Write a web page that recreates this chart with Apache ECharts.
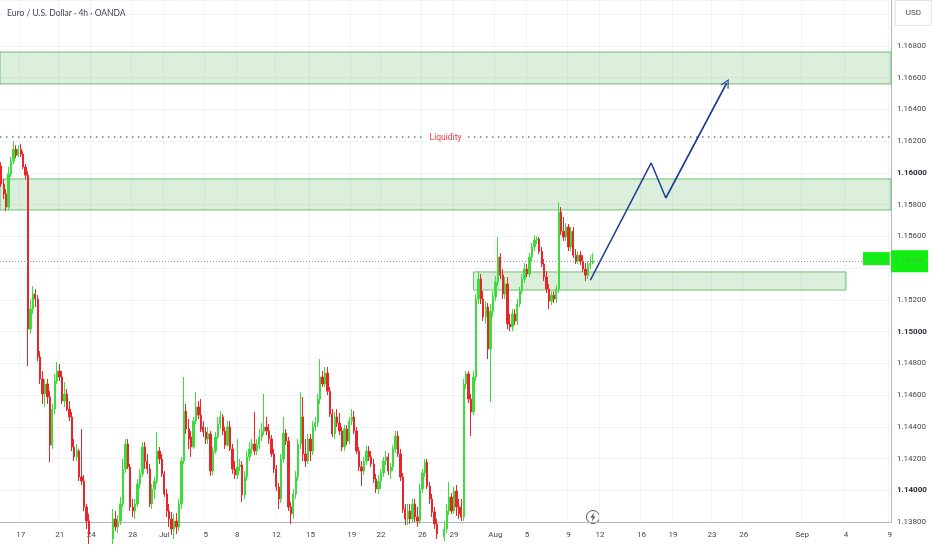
<!DOCTYPE html>
<html>
<head>
<meta charset="utf-8">
<script src="https://cdn.jsdelivr.net/npm/echarts@6/dist/echarts.min.js"></script>
<style>html,body{margin:0;padding:0;background:#fff;}#c{width:932px;height:550px;}</style>
</head>
<body>
<div id="c"></div>
<script>
// ---- data (4h candles) ----
const openP = [
1.16043,1.15930,1.15867,1.15785,1.15993,1.16074,1.16150,1.16112,1.16150,1.16119,
1.16037,1.15986,1.15016,1.15142,1.15237,1.15205,1.14840,1.14701,1.14607,1.14670,
1.14588,1.14285,1.14512,1.14688,1.14751,1.14714,1.14562,1.14607,1.14512,1.14462,
1.14273,1.14210,1.14247,1.14084,1.14058,1.13895,1.13806,1.13725,1.13662,1.13693,
1.13630,1.13662,1.13706,1.13643,1.13693,1.13725,1.13693,1.13819,1.13769,1.13806,
1.13914,1.14134,1.14292,1.14147,1.13895,1.13869,1.13914,1.14040,1.14103,1.14273,
1.14184,1.14134,1.13914,1.14008,1.14058,1.14247,1.14197,1.14103,1.13977,1.13869,
1.13819,1.13756,1.13806,1.13769,1.13914,1.14184,1.14499,1.14386,1.14336,1.14273,
1.14436,1.14525,1.14474,1.14399,1.14367,1.14323,1.14355,1.14121,1.14247,1.14336,
1.14418,1.14462,1.14373,1.14285,1.14399,1.14260,1.14134,1.14096,1.14147,1.14159,
1.13970,1.14084,1.14210,1.14260,1.14292,1.14247,1.14285,1.14336,1.14373,1.14399,
1.14373,1.14323,1.14229,1.14134,1.14021,1.13945,1.14197,1.14361,1.14310,1.13895,
1.13851,1.13977,1.14084,1.14292,1.14462,1.14229,1.14184,1.14323,1.14247,1.14399,
1.14424,1.14575,1.14714,1.14670,1.14739,1.14625,1.14481,1.14355,1.14462,1.14424,
1.14373,1.14273,1.14386,1.14310,1.14436,1.14462,1.14373,1.14247,1.14147,1.14121,
1.14184,1.14247,1.14210,1.14166,1.14071,1.14008,1.14058,1.14109,1.14184,1.14210,
1.14121,1.14147,1.14260,1.14342,1.14229,1.14084,1.13882,1.13819,1.13869,1.13819,
1.13914,1.13832,1.13806,1.14008,1.14109,1.14178,1.14027,1.13945,1.13863,1.13788,
1.13725,1.13756,1.13706,1.13756,1.13869,1.13958,1.13869,1.13995,1.13895,1.13895,
1.13832,1.14670,1.14733,1.14575,1.14493,1.14714,1.15205,1.15331,1.15205,1.15092,
1.15155,1.14890,1.15129,1.15218,1.15312,1.15470,1.15356,1.15237,1.15300,1.15048,
1.15029,1.15111,1.15066,1.15174,1.15255,1.15331,1.15394,1.15363,1.15470,1.15533,
1.15577,1.15583,1.15507,1.15426,1.15344,1.15268,1.15192,1.15230,1.15205,1.15268,
1.15753,1.15633,1.15596,1.15659,1.15533,1.15633,1.15482,1.15444,1.15482,1.15444,
1.15394,1.15356,1.15419,1.15432
];
const closeP = [
1.15930,1.15867,1.15785,1.15993,1.16074,1.16150,1.16112,1.16150,1.16119,1.16037,
1.15986,1.15016,1.15142,1.15237,1.15205,1.14840,1.14701,1.14607,1.14670,1.14588,
1.14285,1.14512,1.14688,1.14751,1.14714,1.14562,1.14607,1.14512,1.14462,1.14273,
1.14210,1.14247,1.14084,1.14058,1.13895,1.13806,1.13725,1.13662,1.13693,1.13630,
1.13662,1.13706,1.13643,1.13693,1.13725,1.13693,1.13819,1.13769,1.13806,1.13914,
1.14134,1.14292,1.14147,1.13895,1.13869,1.13914,1.14040,1.14103,1.14273,1.14184,
1.14134,1.13914,1.14008,1.14058,1.14247,1.14197,1.14103,1.13977,1.13869,1.13819,
1.13756,1.13806,1.13769,1.13914,1.14184,1.14499,1.14386,1.14323,1.14273,1.14436,
1.14525,1.14474,1.14386,1.14367,1.14323,1.14355,1.14121,1.14247,1.14336,1.14418,
1.14462,1.14373,1.14285,1.14399,1.14260,1.14134,1.14096,1.14147,1.14159,1.13970,
1.14084,1.14210,1.14260,1.14292,1.14247,1.14285,1.14336,1.14373,1.14399,1.14373,
1.14323,1.14229,1.14134,1.14021,1.13945,1.14197,1.14361,1.14310,1.13895,1.13851,
1.13977,1.14084,1.14292,1.14462,1.14229,1.14184,1.14323,1.14247,1.14399,1.14424,
1.14575,1.14714,1.14670,1.14739,1.14625,1.14481,1.14355,1.14462,1.14424,1.14373,
1.14273,1.14386,1.14310,1.14436,1.14462,1.14373,1.14247,1.14147,1.14121,1.14184,
1.14247,1.14210,1.14166,1.14071,1.14008,1.14058,1.14109,1.14184,1.14210,1.14121,
1.14147,1.14260,1.14342,1.14229,1.14084,1.13882,1.13819,1.13869,1.13819,1.13914,
1.13832,1.13806,1.14008,1.14109,1.14178,1.14027,1.13945,1.13863,1.13788,1.13725,
1.13756,1.13706,1.13756,1.13869,1.13958,1.13869,1.13995,1.13895,1.13851,1.13832,
1.14670,1.14733,1.14575,1.14493,1.14714,1.15205,1.15331,1.15205,1.15092,1.15155,
1.14890,1.15129,1.15218,1.15312,1.15470,1.15356,1.15237,1.15300,1.15048,1.15029,
1.15111,1.15066,1.15174,1.15255,1.15331,1.15394,1.15363,1.15470,1.15533,1.15577,
1.15583,1.15507,1.15426,1.15344,1.15268,1.15192,1.15230,1.15205,1.15268,1.15753,
1.15633,1.15596,1.15659,1.15533,1.15633,1.15482,1.15444,1.15482,1.15444,1.15394,
1.15356,1.15419,1.15432,1.15444
];
const lowP = [
1.15911,1.15835,1.15759,1.15766,1.15974,1.16056,1.16093,1.16100,1.16100,1.16024,
1.15961,1.14783,1.14985,1.15111,1.15155,1.14814,1.14670,1.14544,1.14525,1.14544,
1.14178,1.14260,1.14481,1.14670,1.14688,1.14544,1.14525,1.14499,1.14436,1.14247,
1.14184,1.14184,1.14058,1.14033,1.13869,1.13756,1.13662,1.13630,1.13617,1.13580,
1.13592,1.13630,1.13617,1.13617,1.13662,1.13655,1.13662,1.13743,1.13731,1.13781,
1.13895,1.14109,1.14134,1.13869,1.13832,1.13819,1.13895,1.14008,1.14084,1.14134,
1.14103,1.13895,1.13882,1.13945,1.14040,1.14166,1.14084,1.13958,1.13832,1.13769,
1.13718,1.13693,1.13725,1.13743,1.13882,1.14166,1.14355,1.14260,1.14210,1.14260,
1.14418,1.14449,1.14367,1.14336,1.14292,1.14292,1.14090,1.14096,1.14229,1.14323,
1.14386,1.14348,1.14260,1.14273,1.14247,1.14103,1.14071,1.14071,1.14121,1.13926,
1.13945,1.14058,1.14184,1.14229,1.14222,1.14222,1.14260,1.14310,1.14348,1.14348,
1.14292,1.14210,1.14109,1.13995,1.13882,1.13920,1.14172,1.14285,1.13869,1.13788,
1.13819,1.13945,1.14058,1.14260,1.14184,1.14147,1.14166,1.14184,1.14222,1.14373,
1.14399,1.14544,1.14651,1.14651,1.14600,1.14462,1.14336,1.14323,1.14399,1.14348,
1.14247,1.14247,1.14285,1.14292,1.14411,1.14355,1.14229,1.14121,1.14027,1.14096,
1.14159,1.14184,1.14147,1.14046,1.13983,1.13977,1.14008,1.14084,1.14159,1.14096,
1.14071,1.14121,1.14235,1.14210,1.14058,1.13857,1.13781,1.13781,1.13788,1.13794,
1.13800,1.13769,1.13788,1.13983,1.14084,1.14008,1.13914,1.13832,1.13756,1.13693,
1.13680,1.13662,1.13680,1.13731,1.13844,1.13851,1.13851,1.13838,1.13819,1.13806,
1.13806,1.14638,1.14550,1.14342,1.14474,1.14688,1.15174,1.15174,1.15066,1.15048,
1.14827,1.14556,1.15092,1.15192,1.15287,1.15331,1.15205,1.15205,1.15016,1.15003,
1.15003,1.15041,1.15041,1.15155,1.15237,1.15306,1.15344,1.15344,1.15444,1.15507,
1.15552,1.15489,1.15407,1.15318,1.15243,1.15142,1.15167,1.15180,1.15180,1.15243,
1.15608,1.15570,1.15570,1.15507,1.15507,1.15463,1.15426,1.15426,1.15419,1.15375,
1.15318,1.15331,1.15394,1.15426
];
const highP = [
1.16068,1.15961,1.15898,1.16037,1.16100,1.16200,1.16175,1.16175,1.16182,1.16137,
1.16056,1.16011,1.15205,1.15287,1.15268,1.15230,1.14877,1.14751,1.14701,1.14701,
1.14625,1.14544,1.14733,1.14808,1.14796,1.14751,1.14682,1.14638,1.14562,1.14493,
1.14323,1.14292,1.14260,1.14386,1.14096,1.13914,1.13851,1.13788,1.13743,1.13725,
1.13706,1.13756,1.13737,1.13743,1.13775,1.13769,1.13882,1.13869,1.13844,1.13958,
1.14197,1.14323,1.14323,1.14166,1.13945,1.13945,1.14071,1.14134,1.14304,1.14304,
1.14229,1.14166,1.14040,1.14084,1.14367,1.14273,1.14229,1.14121,1.14008,1.13914,
1.13863,1.13851,1.13857,1.13945,1.14210,1.14714,1.14544,1.14449,1.14373,1.14462,
1.14619,1.14562,1.14575,1.14436,1.14399,1.14399,1.14373,1.14273,1.14367,1.14462,
1.14499,1.14481,1.14399,1.14436,1.14436,1.14292,1.14184,1.14323,1.14197,1.14184,
1.14121,1.14247,1.14304,1.14323,1.14493,1.14323,1.14386,1.14424,1.14607,1.14462,
1.14418,1.14348,1.14260,1.14159,1.14046,1.14229,1.14462,1.14386,1.14336,1.13926,
1.14008,1.14121,1.14323,1.14619,1.14588,1.14323,1.14355,1.14355,1.14436,1.14462,
1.14607,1.14827,1.14751,1.14777,1.14777,1.14651,1.14512,1.14493,1.14512,1.14487,
1.14399,1.14411,1.14411,1.14462,1.14512,1.14499,1.14399,1.14273,1.14184,1.14210,
1.14279,1.14279,1.14247,1.14197,1.14103,1.14096,1.14134,1.14210,1.14247,1.14235,
1.14172,1.14285,1.14373,1.14373,1.14260,1.14109,1.13914,1.13914,1.13914,1.13945,
1.13945,1.13895,1.14040,1.14134,1.14197,1.14197,1.14052,1.13977,1.13895,1.13819,
1.13788,1.13775,1.13806,1.13914,1.14052,1.13983,1.14021,1.14033,1.13945,1.13945,
1.14701,1.14751,1.14751,1.14607,1.14751,1.15237,1.15381,1.15363,1.15255,1.15192,
1.15180,1.15174,1.15255,1.15350,1.15596,1.15495,1.15394,1.15344,1.15344,1.15111,
1.15142,1.15142,1.15205,1.15281,1.15363,1.15432,1.15426,1.15495,1.15558,1.15608,
1.15602,1.15596,1.15533,1.15457,1.15381,1.15300,1.15255,1.15255,1.15293,1.15816,
1.15785,1.15722,1.15684,1.15678,1.15659,1.15659,1.15520,1.15507,1.15507,1.15482,
1.15432,1.15444,1.15482,1.15495
];
// x-axis day labels and the bar slot where each one sits
const dateLabels = ['17','21','24','28','Jul','5','8','12','15','19','22','26','29','Aug','5','9','12','16','19','23','26','Sep','4','9'];
const labelBars  = [8,24,37,54,67,84,97,113,127,144,156,173,186,203,216,233,246,263,276,292,305,329,347,365];
const slotCount = 366;
// zones (price ranges) and levels
const zoneTop = [1.16561, 1.16762];
const zoneMid = [1.15767, 1.15962];
const zoneLow = [1.15262, 1.15376];
const zoneLowBars = [194, 347];
const liquidityLevel = 1.16227;
const lastPrice = 1.15444;
const priceTagBars = [354, 365];
const priceTagRange = [1.15419, 1.15501];
// projected path (bar slot, price)
const arrowBars = [242, 267, 273, 298];
const arrowPrices = [1.15325, 1.16063, 1.15842, 1.16567];
// y axis
const yMin = 1.138, yMax = 1.1709, yStep = 0.002;

// ---- build ----
const categories = Array.from({length: slotCount}, (_, i) => String(i));
const labelMap = new Map(labelBars.map((b, i) => [b, dateLabels[i]]));
const candleData = openP.map((o, i) => [o, closeP[i], lowP[i], highP[i]]);
const arrowData = arrowBars.map((b, i) => [b, arrowPrices[i]]);
const UP = '#3ddc3d', DOWN = '#e8262a', NAVY = '#1f3f91', TAG = '#12ee12';
const FONT = 'Roboto';

const chart = echarts.init(document.getElementById('c'), null, {renderer: 'canvas'});
chart.setOption({
  animation: false,
  backgroundColor: '#ffffff',
  textStyle: {fontFamily: FONT},
  title: [
    {text: 'Euro / U.S. Dollar · 4h · OANDA', left: 2, top: 4,
     textStyle: {fontFamily: 'Lato', fontSize: 8.5, fontWeight: 'normal', color: '#434651'}},
    {text: 'USD', right: 0, top: 0, padding: [9, 11, 9, 11], borderColor: '#e0e3eb', borderWidth: 1,
     backgroundColor: '#fff',
     textStyle: {fontFamily: FONT, fontSize: 8, fontWeight: 'normal', color: '#434651'}}
  ],
  grid: {left: 0, right: 41, top: 0, bottom: 28, containLabel: false},
  xAxis: {
    type: 'category', data: categories, boundaryGap: true,
    axisLine: {lineStyle: {color: '#b2b5be', width: 1}},
    axisTick: {show: false},
    axisLabel: {
      interval: (idx) => labelMap.has(idx),
      formatter: (v, idx) => labelMap.get(idx) || '',
      color: '#434651', fontSize: 8, margin: 9, fontFamily: FONT
    },
    splitLine: {show: true, interval: (idx) => labelMap.has(idx), lineStyle: {color: '#f0f3fa', width: 1}}
  },
  yAxis: {
    type: 'value', position: 'right', min: yMin, max: yMax, interval: yStep, scale: true,
    axisLine: {show: true, lineStyle: {color: '#b2b5be', width: 1}},
    axisTick: {show: false},
    axisLabel: {
      margin: 6, fontSize: 8, color: '#434651', fontFamily: FONT, showMaxLabel: false,
      formatter: (v) => {
        if (v > 1.1695) return '';
        const s = v.toFixed(5);
        return (Math.abs(v * 100 - Math.round(v * 100)) < 1e-6) ? '{b|' + s + '}' : s;
      },
      rich: {b: {fontWeight: 'bold', color: '#2a2e39', fontSize: 8, fontFamily: FONT}}
    },
    splitLine: {show: true, lineStyle: {color: '#f0f3fa', width: 1}}
  },
  series: [
    {
      type: 'candlestick', data: candleData, barWidth: 1.8, z: 3,
      itemStyle: {color: UP, color0: DOWN, borderColor: UP, borderColor0: DOWN, borderWidth: 1},
      markArea: {
        silent: true,
        itemStyle: {color: 'rgba(76,175,80,0.2)', borderColor: '#6cbf70', borderWidth: 1},
        data: [
          [{yAxis: zoneTop[1]}, {yAxis: zoneTop[0]}],
          [{yAxis: zoneMid[1]}, {yAxis: zoneMid[0]}],
          [{xAxis: zoneLowBars[0], yAxis: zoneLow[1]}, {xAxis: zoneLowBars[1], yAxis: zoneLow[0]}],
          [{xAxis: priceTagBars[0], yAxis: priceTagRange[1], itemStyle: {color: TAG, borderWidth: 0}},
           {xAxis: priceTagBars[1], yAxis: priceTagRange[0]}]
        ]
      },
      markLine: {
        silent: true, symbol: 'none', precision: 5,
        data: [
          {yAxis: liquidityLevel,
           lineStyle: {color: '#787b86', type: [1.5, 4.5], width: 1.5},
           label: {show: true, position: 'middle', distance: -1, verticalAlign: 'middle',
                   formatter: 'Liquidity', color: '#f23645', fontSize: 8.5,
                   fontFamily: FONT, backgroundColor: '#fff', padding: [1, 4]}},
          {yAxis: lastPrice,
           lineStyle: {color: '#9598a1', type: [1, 2], width: 1},
           label: {show: true, position: 'end', distance: 0, formatter: lastPrice.toFixed(5),
                   color: '#3cbf3c', fontSize: 8, fontFamily: FONT,
                   backgroundColor: TAG, padding: [8, 4, 6, 4]}}
        ]
      }
    },
    {
      type: 'line', data: arrowData, symbol: 'none', z: 5,
      lineStyle: {color: NAVY, width: 1.5},
      markLine: {
        silent: true, precision: 5,
        symbol: ['none', 'path://M5,0 L10,10 L8.6,10 L5,2.6 L1.4,10 L0,10 Z'],
        symbolSize: [9, 9],
        lineStyle: {color: NAVY, width: 1.5, type: 'solid'},
        itemStyle: {color: NAVY},
        label: {show: false},
        data: [[{coord: [arrowBars[2], arrowPrices[2]]}, {coord: [arrowBars[3], arrowPrices[3]]}]]
      }
    }
  ],
  graphic: [{
    type: 'group', left: 586, top: 510, silent: true,
    children: [
      {type: 'circle', shape: {cx: 7, cy: 7, r: 6.5}, style: {fill: '#fff', stroke: '#50535e', lineWidth: 1}},
      {type: 'polygon', shape: {points: [[8.2, 2.6], [4.4, 7.6], [6.8, 7.6], [5.8, 11.4], [9.6, 6.4], [7.2, 6.4]]},
       style: {fill: '#50535e'}}
    ]
  }]
});
</script>
</body>
</html>
